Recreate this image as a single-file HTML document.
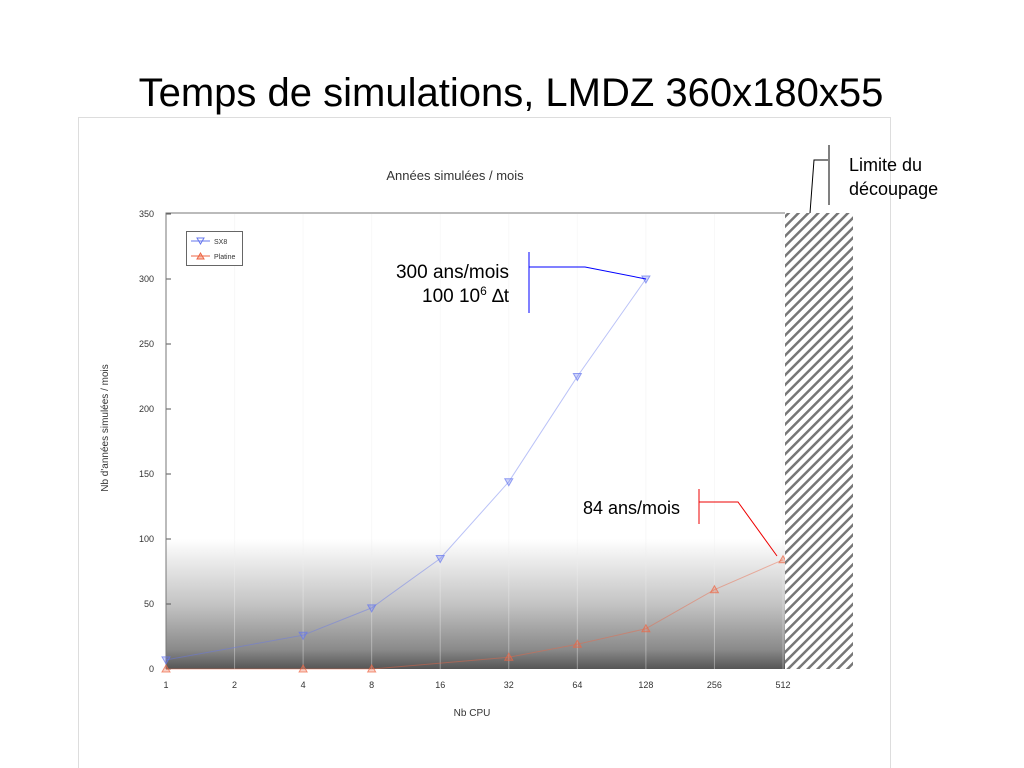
<!DOCTYPE html>
<html><head><meta charset="utf-8"><style>
body{margin:0;background:#fff;font-family:"Liberation Sans",sans-serif}
</style></head><body>
<svg width="1024" height="768" xmlns="http://www.w3.org/2000/svg" style="display:block">
<defs>
<linearGradient id="gz" x1="0" y1="0" x2="0" y2="1">
<stop offset="0" stop-color="#ffffff"/><stop offset="0.5" stop-color="#c4c4c4"/><stop offset="0.85" stop-color="#8a8a8a"/><stop offset="1" stop-color="#555"/>
</linearGradient>
<pattern id="hatch" width="7" height="7" patternUnits="userSpaceOnUse" patternTransform="rotate(45)">
<rect width="7" height="7" fill="#fff"/><rect width="2.5" height="7" fill="#777"/>
</pattern>
</defs>
<text x="511" y="106" text-anchor="middle" font-size="40" fill="#000">Temps de simulations, LMDZ 360x180x55</text>
<rect x="78.5" y="117.5" width="812" height="660" fill="#fff" stroke="#ddd"/>
<text x="455" y="180" text-anchor="middle" font-size="13" fill="#333">Années simulées / mois</text>
<g id="plot"></g>
<rect x="785" y="213" width="68" height="456" fill="url(#hatch)"/>
<polyline points="810,213 814,160 828,160" fill="none" stroke="#000"/>
<line x1="829" y1="145" x2="829" y2="205" stroke="#000"/>
<text x="849" y="171" font-size="18">Limite du</text>
<text x="849" y="195" font-size="18">découpage</text>
<line x1="529" y1="252" x2="529" y2="313" stroke="#00f"/>
<polyline points="529,267 585,267 646,279" fill="none" stroke="#00f"/>
<text x="509" y="278" text-anchor="end" font-size="19">300 ans/mois</text>
<text x="509" y="302" text-anchor="end" font-size="19">100 10<tspan dy="-7" font-size="12">6</tspan><tspan dy="7"> ∆t</tspan></text>
<line x1="699" y1="489" x2="699" y2="524" stroke="#e00"/>
<polyline points="699,502 738,502 777,556" fill="none" stroke="#e00"/>
<text x="680" y="514" text-anchor="end" font-size="18">84 ans/mois</text>
</svg>
<script>
const xCats=[1,2,4,8,16,32,64,128,256,512];
const yTicks=[0,50,100,150,200,250,300,350];
const sx8X=[1,4,8,16,32,64,128];
const sx8Y=[7,26,47,85,144,225,300];
const platX=[1,4,8,32,64,128,256,512];
const platY=[0,0,0,9,19,31,61,84];
const X0=166,X1=783,Y0=669,Y1=214;
const xs=v=>X0+(X1-X0)*Math.log2(v)/9;
const ys=v=>Y0-(Y0-Y1)*v/350;
const NS="http://www.w3.org/2000/svg";
const g=document.getElementById('plot');
function mk(t,a){const e=document.createElementNS(NS,t);for(const k in a)e.setAttribute(k,a[k]);g.appendChild(e);return e;}
let e;
e=mk('rect',{x:X0,y:ys(100),width:785-X0,height:Y0-ys(100),fill:'url(#gz)'});


xCats.forEach(c=>{e=mk('line',{x1:xs(c),x2:xs(c),y1:Y1,y2:Y0,stroke:'#eee','stroke-opacity':0.4});


e=mk('text',{x:xs(c),y:688,'text-anchor':'middle','font-size':9,fill:'#333'});e.textContent=c;

});
yTicks.forEach(t=>{e=mk('text',{x:154,y:ys(t)+3,'text-anchor':'end','font-size':9,fill:'#333'});e.textContent=t;


mk('line',{x1:X0,x2:X0+5,y1:ys(t),y2:ys(t),stroke:'#555'});});
e=mk('polyline',{points:`166,669 166,213 785,213`,fill:'none',stroke:'#777'});


e=mk('text',{x:472,y:716,'text-anchor':'middle','font-size':10,fill:'#333'});e.textContent='Nb CPU';


e=mk('text',{x:0,y:0,'text-anchor':'middle','font-size':10,fill:'#333',transform:'translate(108,428) rotate(-90)'});e.textContent="Nb d'années simulées / mois";


function series(xv,yv,col,down,name){
 e=mk('polyline',{points:xv.map((x,i)=>xs(x)+','+ys(yv[i])).join(' '),fill:'none',stroke:col,'stroke-opacity':0.45});
 
 
 xv.forEach((x,i)=>{const cx=xs(x),cy=ys(yv[i]);
  const p=down?`${cx-4},${cy-3} ${cx+4},${cy-3} ${cx},${cy+4}`:`${cx-4},${cy+3} ${cx+4},${cy+3} ${cx},${cy-4}`;
  e=mk('polygon',{points:p,fill:col,'fill-opacity':0.3,stroke:col,'stroke-opacity':0.7});
  
  });
}
series(sx8X,sx8Y,'#6677ee',true,'sx8');
series(platX,platY,'#ee6644',false,'platine');
e=mk('rect',{x:186.5,y:231.5,width:56,height:34,fill:'#fff',stroke:'#666'});


mk('line',{x1:191,x2:210,y1:241,y2:241,stroke:'#6677ee'});
mk('polygon',{points:'197,238 204,238 200.5,244',fill:'none',stroke:'#6677ee'});
e=mk('text',{x:214,y:244,'font-size':7,fill:'#333'});e.textContent='SX8';


mk('line',{x1:191,x2:210,y1:256,y2:256,stroke:'#ee6644'});
mk('polygon',{points:'197,259 204,259 200.5,253',fill:'#ee6644','fill-opacity':0.4,stroke:'#ee6644'});
e=mk('text',{x:214,y:259,'font-size':7,fill:'#333'});e.textContent='Platine';


</script>
</body></html>
